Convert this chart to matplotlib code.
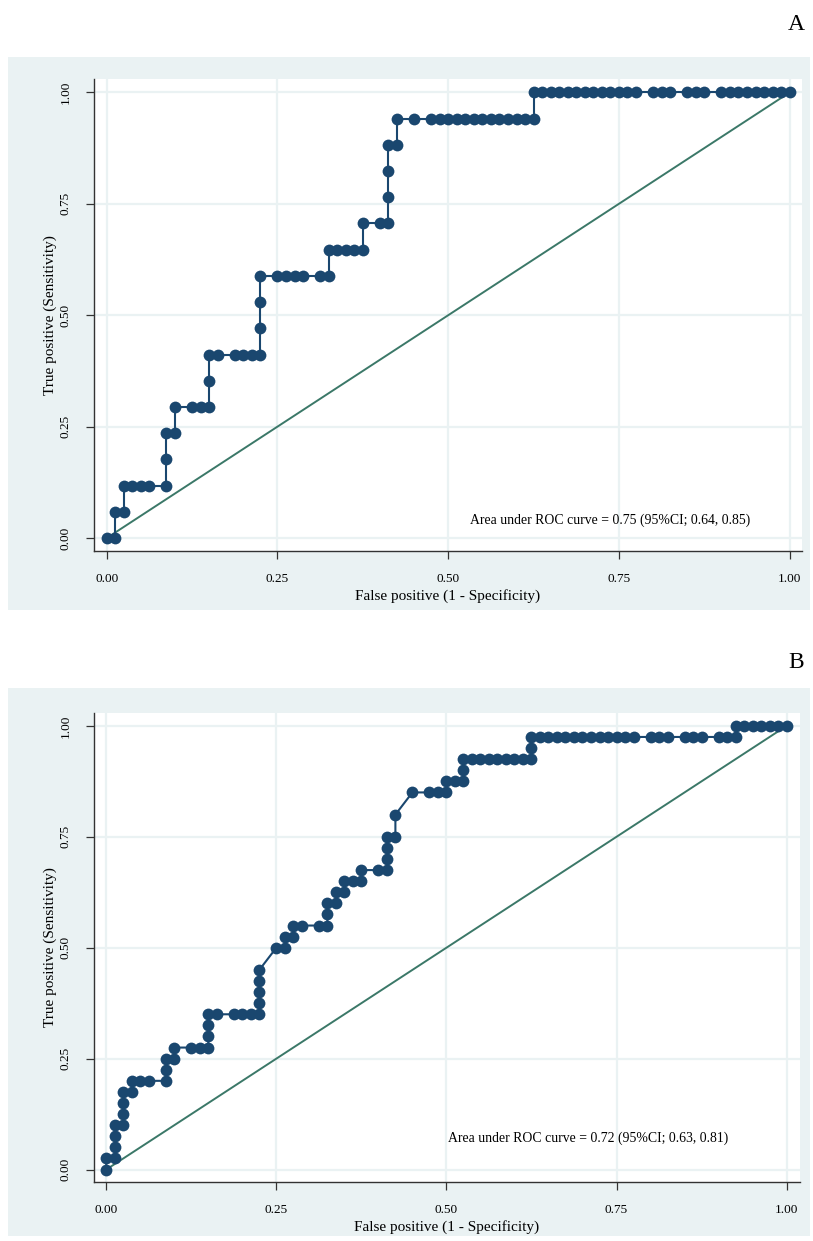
import matplotlib
matplotlib.use("Agg")
import matplotlib.pyplot as plt
import matplotlib.patches as patches

# ---------------------------------------------------------------
# ROC points, as counts
# (false positives out of n_neg, true positives out of n_pos)
# ---------------------------------------------------------------
n_neg_a = 80
n_pos_a = 17
fp_a = [0, 1,
        1, 2,
        2, 3, 4, 5, 7,
        7,
        7, 8,
        8, 10, 11, 12,
        12,
        12, 13, 15, 16, 17, 18,
        18,
        18,
        18, 20, 21, 22, 23, 25, 26,
        26, 27, 28, 29, 30,
        30, 32, 33,
        33,
        33,
        33, 34,
        34, 36, 38, 39, 40, 41, 42, 43, 44, 45, 46, 47, 48, 49, 50,
        50, 51, 52, 53, 54, 55, 56, 57, 58, 59, 60, 61, 62, 64, 65, 66,
        68, 69, 70, 72, 73, 74, 75, 76, 77, 78, 79, 80]
tp_a = [0, 0,
        1, 1,
        2, 2, 2, 2, 2,
        3,
        4, 4,
        5, 5, 5, 5,
        6,
        7, 7, 7, 7, 7, 7,
        8,
        9,
        10, 10, 10, 10, 10, 10, 10,
        11, 11, 11, 11, 11,
        12, 12, 12,
        13,
        14,
        15, 15,
        16, 16, 16, 16, 16, 16, 16, 16, 16, 16, 16, 16, 16, 16, 16,
        17, 17, 17, 17, 17, 17, 17, 17, 17, 17, 17, 17, 17, 17, 17, 17,
        17, 17, 17, 17, 17, 17, 17, 17, 17, 17, 17, 17]

n_neg_b = 80
n_pos_b = 40
fp_b = [0,
        0, 1,
        1, 1, 1, 2,
        2, 2, 2, 3,
        3, 4, 5, 7,
        7, 7, 8,
        8, 10, 11, 12,
        12, 12, 12, 13, 15, 16, 17, 18,
        18, 18, 18, 18,
        20, 21,
        21, 22,
        22, 23, 25, 26,
        26, 26, 27,
        27, 28,
        28, 29, 30,
        30, 32, 33,
        33, 33, 33, 34,
        34,
        36, 38, 39, 40,
        40, 41, 42,
        42, 42, 43, 44, 45, 46, 47, 48, 49, 50,
        50, 50, 51, 52, 53, 54, 55, 56, 57, 58, 59, 60, 61, 62,
        64, 65, 66, 68, 69, 70, 72, 73, 74,
        74, 75, 76, 77, 78, 79, 80]
tp_b = [0,
        1, 1,
        2, 3, 4, 4,
        5, 6, 7, 7,
        8, 8, 8, 8,
        9, 10, 10,
        11, 11, 11, 11,
        12, 13, 14, 14, 14, 14, 14, 14,
        15, 16, 17, 18,
        20, 20,
        21, 21,
        22, 22, 22, 22,
        23, 24, 24,
        25, 25,
        26, 26, 26,
        27, 27, 27,
        28, 29, 30, 30,
        32,
        34, 34, 34, 34,
        35, 35, 35,
        36, 37, 37, 37, 37, 37, 37, 37, 37, 37,
        38, 39, 39, 39, 39, 39, 39, 39, 39, 39, 39, 39, 39, 39,
        39, 39, 39, 39, 39, 39, 39, 39, 39,
        40, 40, 40, 40, 40, 40, 40]

ticks = [0, 0.25, 0.5, 0.75, 1.0]
tick_labels = ["0.00", "0.25", "0.50", "0.75", "1.00"]
auc_text_a = "Area under ROC curve = 0.75 (95%CI; 0.64, 0.85)"
auc_text_b = "Area under ROC curve = 0.72 (95%CI; 0.63, 0.81)"

# colours
bg_col = "#eaf2f3"
curve_col = "#1a476f"
ref_col = "#3b7868"

plt.rcParams['font.family'] = ['Liberation Serif', 'DejaVu Serif']

W, H = 813, 1241
fig = plt.figure(figsize=(W / 100, H / 100), dpi=100)


def fx(px):
    return px / W


def fy(py):
    return 1 - py / H


def draw_panel(letter, letter_y, bg_top, bg_bot, ax_top, ax_bot, ax_left, ax_right,
               fp, tp, n_neg, n_pos, auc_text, txt_xy, xlim, ylim):
    # light panel background, kept behind the axes
    fig.patches.append(patches.Rectangle((fx(8), fy(bg_bot)), fx(810) - fx(8),
                                         fy(bg_top) - fy(bg_bot),
                                         transform=fig.transFigure,
                                         facecolor=bg_col, edgecolor="none", zorder=-10))
    fig.text(fx(796), fy(letter_y), letter, fontsize=17, ha="center", va="center")

    ax = fig.add_axes([fx(ax_left), fy(ax_bot), fx(ax_right) - fx(ax_left),
                       fy(ax_top) - fy(ax_bot)])
    ax.set_zorder(1)
    ax.set_facecolor("white")

    x = [v / n_neg for v in fp]
    y = [v / n_pos for v in tp]
    ax.plot([0, 1], [0, 1], color=ref_col, linewidth=1.4, zorder=2)
    ax.plot(x, y, color=curve_col, linewidth=1.5, marker="o", markersize=8.5,
            markeredgewidth=0, zorder=3)

    ax.set_xlim(*xlim)
    ax.set_ylim(*ylim)
    ax.set_xticks(ticks)
    ax.set_xticklabels(tick_labels, fontsize=9.5)
    ax.set_yticks(ticks)
    ax.set_yticklabels(tick_labels, fontsize=9.5, rotation=90, va="center")
    ax.grid(True, color=bg_col, linewidth=1.6)
    ax.set_axisbelow(True)

    for s in ["top", "right"]:
        ax.spines[s].set_visible(False)
    for s in ["left", "bottom"]:
        ax.spines[s].set_color("#333333")
        ax.spines[s].set_linewidth(1.0)
    ax.tick_params(direction="out", length=6, width=0.9, color="#333333", pad=10)

    ax.set_xlabel("False positive (1 - Specificity)", fontsize=11, labelpad=3)
    ax.set_ylabel("True positive (Sensitivity)", fontsize=11, labelpad=2)
    ax.text(txt_xy[0], txt_xy[1], auc_text, fontsize=9.9, ha="left", va="center")
    return ax


draw_panel("A", 25, 57, 610, 79, 551, 94, 802, fp_a, tp_a, n_neg_a, n_pos_a,
           auc_text_a, (0.532, 0.04), (-0.0186, 1.018), (-0.029, 1.03))
draw_panel("B", 662, 688, 1236, 713, 1182, 94, 800, fp_b, tp_b, n_neg_b, n_pos_b,
           auc_text_b, (0.502, 0.0705), (-0.018, 1.0197), (-0.028, 1.029))

fig.savefig("out.png", dpi=100)
